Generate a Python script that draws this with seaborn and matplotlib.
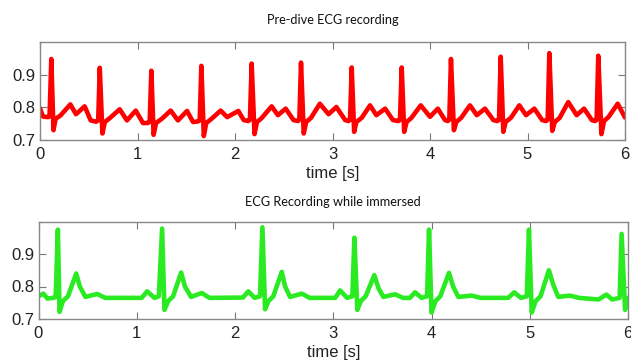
import matplotlib
matplotlib.use("Agg")
import matplotlib.pyplot as plt
import seaborn as sns
import pandas as pd

# ---- data ----
top_title = "Pre-dive ECG recording"
bottom_title = "ECG Recording while immersed"
x_label = "time [s]"
x_ticks = [0, 1, 2, 3, 4, 5, 6]
y_ticks = [0.7, 0.8, 0.9]

predive_t = [0.0, 0.03, 0.08, 0.098, 0.116, 0.138, 0.16, 0.21, 0.311, 0.369, 0.458, 0.520,
             0.575, 0.597, 0.613, 0.640, 0.665, 0.72, 0.817, 0.892, 0.982, 1.056,
             1.105, 1.125, 1.142, 1.165, 1.19, 1.25, 1.340, 1.415, 1.508, 1.570,
             1.62, 1.638, 1.655, 1.680, 1.705, 1.76, 1.853, 1.92, 2.034, 2.090,
             2.135, 2.153, 2.171, 2.200, 2.225, 2.27, 2.376, 2.440, 2.520, 2.600,
             2.645, 2.660, 2.677, 2.705, 2.730, 2.78, 2.870, 2.960, 3.040, 3.130,
             3.165, 3.180, 3.197, 3.222, 3.245, 3.30, 3.385, 3.450, 3.540, 3.620,
             3.675, 3.692, 3.710, 3.735, 3.76, 3.81, 3.905, 4.000, 4.080, 4.154,
             4.182, 4.198, 4.215, 4.245, 4.27, 4.32, 4.410, 4.480, 4.564, 4.650,
             4.690, 4.708, 4.725, 4.752, 4.775, 4.83, 4.916, 4.985, 5.070, 5.150,
             5.190, 5.207, 5.224, 5.254, 5.28, 5.33, 5.418, 5.504, 5.580, 5.660,
             5.692, 5.709, 5.726, 5.758, 5.785, 5.83, 5.925, 6.0]
predive_v = [0.797, 0.772, 0.770, 0.772, 0.948, 0.730, 0.765, 0.775, 0.809, 0.779, 0.803, 0.760,
             0.756, 0.760, 0.921, 0.720, 0.755, 0.768, 0.794, 0.760, 0.790, 0.752,
             0.752, 0.756, 0.912, 0.716, 0.752, 0.765, 0.790, 0.760, 0.789, 0.755,
             0.757, 0.760, 0.927, 0.712, 0.752, 0.765, 0.790, 0.770, 0.789, 0.761,
             0.758, 0.762, 0.934, 0.718, 0.755, 0.766, 0.803, 0.776, 0.796, 0.761,
             0.758, 0.762, 0.937, 0.720, 0.755, 0.768, 0.811, 0.779, 0.801, 0.761,
             0.758, 0.762, 0.922, 0.725, 0.755, 0.768, 0.806, 0.776, 0.796, 0.761,
             0.758, 0.762, 0.922, 0.725, 0.755, 0.768, 0.806, 0.771, 0.796, 0.761,
             0.758, 0.762, 0.948, 0.730, 0.755, 0.768, 0.806, 0.776, 0.796, 0.761,
             0.758, 0.762, 0.955, 0.725, 0.755, 0.768, 0.806, 0.776, 0.796, 0.761,
             0.758, 0.762, 0.966, 0.728, 0.755, 0.768, 0.816, 0.776, 0.796, 0.761,
             0.758, 0.762, 0.958, 0.718, 0.758, 0.770, 0.811, 0.769]

immersed_t = [0.0, 0.05, 0.09, 0.15, 0.175, 0.197, 0.214, 0.248, 0.30, 0.384, 0.420, 0.478,
              0.597, 0.68, 1.05, 1.106, 1.18, 1.225, 1.258, 1.282, 1.32, 1.37, 1.452,
              1.49, 1.553, 1.662, 1.74, 2.08, 2.136, 2.20, 2.255, 2.279, 2.306, 2.34,
              2.39, 2.476, 2.51, 2.56, 2.68, 2.76, 3.02, 3.07, 3.14, 3.195, 3.215,
              3.245, 3.28, 3.33, 3.418, 3.46, 3.51, 3.63, 3.71, 3.78, 3.832, 3.90,
              3.955, 3.975, 4.000, 4.04, 4.09, 4.178, 4.22, 4.273, 4.41, 4.50, 4.78,
              4.842, 4.91, 4.970, 4.992, 5.020, 5.06, 5.11, 5.195, 5.24, 5.29, 5.41,
              5.50, 5.70, 5.78, 5.84, 5.915, 5.935, 5.970, 6.0]
immersed_v = [0.770, 0.778, 0.763, 0.765, 0.768, 0.975, 0.722, 0.755, 0.770, 0.840, 0.800, 0.768,
              0.777, 0.765, 0.765, 0.785, 0.765, 0.770, 0.978, 0.728, 0.755, 0.770, 0.843,
              0.800, 0.768, 0.780, 0.765, 0.766, 0.785, 0.765, 0.770, 0.982, 0.730, 0.755,
              0.770, 0.845, 0.800, 0.768, 0.778, 0.765, 0.765, 0.788, 0.765, 0.770, 0.950,
              0.728, 0.755, 0.770, 0.835, 0.795, 0.768, 0.776, 0.765, 0.765, 0.782, 0.765,
              0.770, 0.975, 0.720, 0.755, 0.770, 0.842, 0.800, 0.768, 0.772, 0.765, 0.765,
              0.782, 0.765, 0.770, 0.975, 0.720, 0.755, 0.770, 0.850, 0.805, 0.768, 0.772,
              0.765, 0.760, 0.775, 0.760, 0.765, 0.962, 0.728, 0.765]

# ---- style ----
sns.set_style("white")
plt.rcParams["font.family"] = ["Liberation Sans", "DejaVu Sans"]

fig = plt.figure(figsize=(6.31, 3.60), dpi=100)
ax_top = fig.add_axes([40 / 631, 1 - 140 / 360, 585 / 631, 98 / 360])
ax_bot = fig.add_axes([38.5 / 631, 1 - 319 / 360, 589.5 / 631, 97.5 / 360])

panels = [
    (ax_top, predive_t, predive_v, "#ff0000", top_title, 20),
    (ax_bot, immersed_t, immersed_v, "#2aeb22", bottom_title, 202),
]

for ax, t, v, color, title, title_y in panels:
    df = pd.DataFrame({"t": t, "v": v})
    sns.lineplot(data=df, x="t", y="v", ax=ax, color=color, linewidth=3.3,
                 sort=False, estimator=None)
    ax.set_xlim(0, 6)
    ax.set_ylim(0.7, 1.0)
    ax.set_xticks(x_ticks)
    ax.set_xticklabels([str(x) for x in x_ticks])
    ax.set_yticks(y_ticks)
    ax.set_yticklabels([f"{y:.1f}" for y in y_ticks])
    ax.set_ylabel("")
    ax.set_xlabel(x_label, fontsize=12, color="#222222")
    ax.xaxis.set_label_coords(0.5, -0.345)
    ax.xaxis.label.set_va("center")
    ax.tick_params(direction="in", length=5, width=0.8, color="#777777",
                   labelsize=12, labelcolor="#222222", top=True, right=True,
                   bottom=True, left=True)
    ax.tick_params(axis="x", pad=5)
    ax.tick_params(axis="y", pad=3)
    for s in ax.spines.values():
        s.set_visible(True)
        s.set_color("#888888")
        s.set_linewidth(1.0)
    fig.text(ax.get_position().x0 + ax.get_position().width / 2, 1 - title_y / 360, title,
             ha="center", va="center", fontsize=9.2, family=["Lato", "DejaVu Sans"],
             color="#111111")

fig.savefig("out.png", dpi=100)
